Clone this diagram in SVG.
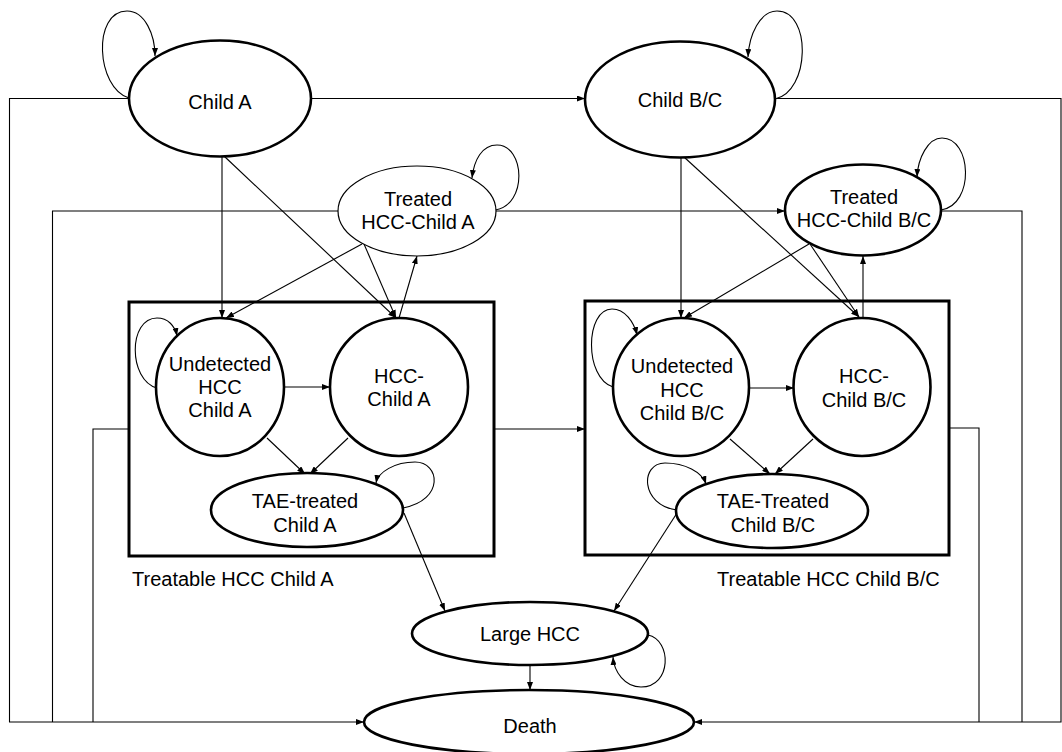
<svg xmlns="http://www.w3.org/2000/svg" width="1062" height="752" viewBox="0 0 1062 752">
<defs>
<marker id="ah" markerWidth="8" markerHeight="6" refX="8" refY="3" orient="auto" markerUnits="userSpaceOnUse"><path d="M0,0 L8,3 L0,6 z" fill="#000"/></marker>
<style>
.n{fill:#fff;stroke:#000;stroke-width:2.6}
.thin{fill:#fff;stroke:#000;stroke-width:1.2}
.box{fill:none;stroke:#000;stroke-width:3}
.c{fill:none;stroke:#000;stroke-width:1.1}
.a{fill:none;stroke:#000;stroke-width:1.1;marker-end:url(#ah)}
text{font-family:"Liberation Sans",Arial,sans-serif;font-size:20px;fill:#000}
.m{text-anchor:middle}
</style>
</defs>
<rect width="1062" height="752" fill="#fff"/>
<g id="boxes">
<rect id="boxA" class="box" x="129" y="302" width="365" height="254"/>
<rect id="boxB" class="box" x="585" y="301" width="364" height="254"/>
<text x="132" y="586">Treatable HCC Child A</text>
<text x="717" y="586">Treatable HCC Child B/C</text>
</g>
<g id="connectors">
<path class="a" d="M129,98 C96,88 92,11 127,11 C145,11 155,35 155,56"/>
<path class="a" d="M129,98.5 H9.5 V722 H364"/>
<path class="a" d="M311,98.5 H585"/>
<path class="a" d="M775,99 C810,92 812,11 777,11 C760,11 749,35 748,57"/>
<path class="a" d="M775,98.5 H1061 V722 H694"/>
<path class="a" d="M222,156 V318"/>
<path class="a" d="M224,156 L396,318"/>
<path class="a" d="M362,244 L226,318"/>
<path class="a" d="M364,244 L396,318"/>
<path class="a" d="M399,318 L417,256"/>
<path class="a" d="M157,388 C128,380 128,318 157,318 C168,318 175,326 177,336"/>
<path class="a" d="M284,387 H330"/>
<path class="a" d="M267,438 L305,474"/>
<path class="a" d="M348,438 L310,474"/>
<path class="a" d="M403,508 C445,500 440,462 415,462 C395,462 378,472 376,483"/>
<path class="a" d="M404,513 L445,611"/>
<path class="c" d="M338,211 H52.5 V722"/>
<path class="c" d="M129,429 H93 V722"/>
<path class="a" d="M496,211 H785"/>
<path class="a" d="M495,210 C528,205 525,145 497,145 C482,145 474,160 472,178"/>
<path class="a" d="M681,157 V318"/>
<path class="a" d="M684,157 L859,317"/>
<path class="a" d="M809,244 L684,318"/>
<path class="a" d="M810,244 L859,317"/>
<path class="a" d="M863,317 V256"/>
<path class="a" d="M941,210 C975,205 972,138 942,138 C928,138 918,158 917,177"/>
<path class="c" d="M941,211 H1022 V722"/>
<path class="a" d="M613,387 C584,378 585,309 612,309 C625,309 634,322 637,335"/>
<path class="a" d="M749,388 H794"/>
<path class="a" d="M730,439 L770,474"/>
<path class="a" d="M813,439 L775,474"/>
<path class="a" d="M677,510 C640,505 640,463 665,463 C685,463 702,472 706,484"/>
<path class="a" d="M677,513 L614,611"/>
<path class="a" d="M494,429 H585"/>
<path class="c" d="M949,428 H979 V722"/>
<path class="a" d="M648,635 C672,640 672,687 641,687 C625,687 614,672 613,657"/>
<path class="a" d="M530,665 V690"/>
</g>
<g id="childA"><ellipse class="n" cx="220" cy="98.5" rx="91" ry="58"/><text class="m" x="220" y="109">Child A</text></g>
<g id="childBC"><ellipse class="n" cx="680" cy="99.5" rx="95" ry="58"/><text class="m" x="680" y="107">Child B/C</text></g>
<g id="treatedA"><ellipse class="thin" cx="417" cy="211" rx="79" ry="45"/><text class="m" x="418" y="206">Treated</text><text class="m" x="418" y="229">HCC-Child A</text></g>
<g id="treatedBC"><ellipse class="n" cx="863" cy="210" rx="78" ry="45.5"/><text class="m" x="864" y="204">Treated</text><text class="m" x="864" y="227">HCC-Child B/C</text></g>
<g id="undetA"><ellipse class="n" cx="220" cy="387" rx="64" ry="69"/><text class="m" x="220" y="371">Undetected</text><text class="m" x="220" y="394">HCC</text><text class="m" x="220" y="417">Child A</text></g>
<g id="hccA"><ellipse class="n" cx="399" cy="387" rx="69" ry="69"/><text class="m" x="399" y="383">HCC-</text><text class="m" x="399" y="406">Child A</text></g>
<g id="taeA"><ellipse class="n" cx="307" cy="510" rx="96" ry="37"/><text class="m" x="305" y="508">TAE-treated</text><text class="m" x="305" y="532">Child A</text></g>
<g id="undetBC"><ellipse class="n" cx="681" cy="387" rx="68" ry="69"/><text class="m" x="682" y="373">Undetected</text><text class="m" x="682" y="397">HCC</text><text class="m" x="682" y="420">Child B/C</text></g>
<g id="hccBC"><ellipse class="n" cx="862" cy="387" rx="68.5" ry="69"/><text class="m" x="864" y="383">HCC-</text><text class="m" x="864" y="407">Child B/C</text></g>
<g id="taeBC"><ellipse class="n" cx="772" cy="511" rx="96" ry="37"/><text class="m" x="773" y="508">TAE-Treated</text><text class="m" x="773" y="532">Child B/C</text></g>
<g id="largeHCC"><ellipse class="n" cx="530" cy="633.5" rx="118" ry="31.5"/><text class="m" x="530" y="641">Large HCC</text></g>
<g id="death"><ellipse class="n" cx="529" cy="722" rx="165" ry="32"/><text class="m" x="530" y="733">Death</text></g>
</svg>
